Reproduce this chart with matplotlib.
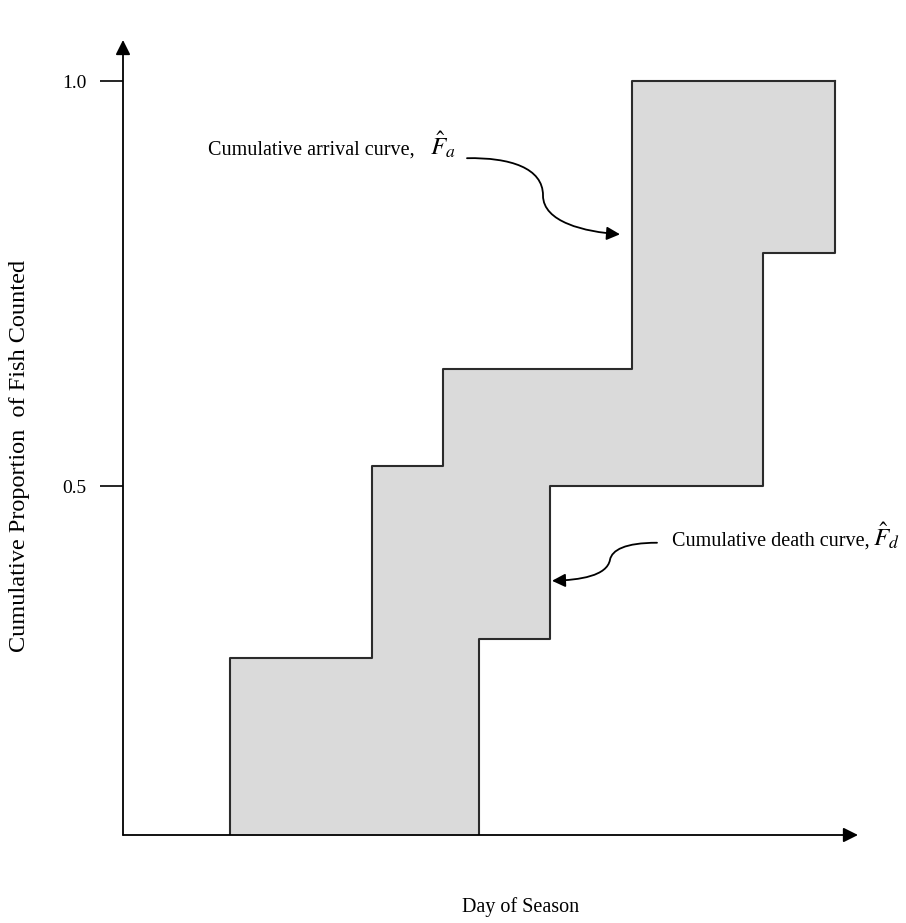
import numpy as np
import matplotlib
matplotlib.use('Agg')
import matplotlib.pyplot as plt
from matplotlib.patches import FancyArrowPatch
from matplotlib.path import Path

plt.rcParams.update({
    'font.family': ['Liberation Serif', 'DejaVu Serif'],
    'mathtext.fontset': 'stix',
    'font.size': 14,
})

# cumulative arrival curve (step up at each day)
arrival_days = [10.7, 10.7, 24.9, 32.0, 50.9, 71.2]
arrival_prop = [0.0, 0.288, 0.525, 0.644, 1.0, 1.0]

# cumulative death curve
death_days = [35.6, 35.6, 42.7, 64.0, 71.2]
death_prop = [0.0, 0.311, 0.5, 0.788, 1.0]

# both curves on a common day grid, for the shading
grid_days = [10.7, 24.9, 32.0, 35.6, 42.7, 50.9, 64.0, 71.2]
grid_arrival = [0.288, 0.525, 0.644, 0.644, 0.644, 1.0, 1.0, 1.0]
grid_death = [0.0, 0.0, 0.0, 0.311, 0.5, 0.5, 0.788, 1.0]

yticks = [0.5, 1.0]
ytick_labels = ['0.5', '1.0']

fig = plt.figure(figsize=(9.06, 9.23), dpi=100)
ax = fig.add_axes([123 / 906, 88 / 923, 735 / 906, 795 / 923])
ax.set_xlim(0, 73.5)
ax.set_ylim(0.069, 1.051)

ax.fill_between(grid_days, grid_death, grid_arrival, step='post',
                color='#dadada', lw=0, zorder=1)
ax.step(arrival_days, arrival_prop, where='post', color='#2b2b2b', lw=1.5, zorder=2)
ax.step(death_days, death_prop, where='post', color='#2b2b2b', lw=1.5, zorder=2)

# axes as arrows
for s in ax.spines.values():
    s.set_visible(False)
ax.annotate('', xy=(0, 1), xytext=(0, 0), xycoords='axes fraction',
            arrowprops=dict(arrowstyle='-|>', color='black', lw=1.3,
                            mutation_scale=22, shrinkA=0, shrinkB=0))
ax.annotate('', xy=(1, 0), xytext=(0, 0), xycoords='axes fraction',
            arrowprops=dict(arrowstyle='-|>', color='black', lw=1.3,
                            mutation_scale=22, shrinkA=0, shrinkB=0))

ax.set_xticks([])
ax.set_yticks(yticks)
ax.set_yticklabels(ytick_labels)
ax.tick_params(axis='y', direction='out', length=16.5, width=1.2, pad=10, labelsize=14)

fig.text(20 / 906, 1 - 456 / 923, 'Cumulative Proportion  of Fish Counted',
         rotation=90, ha='center', va='center', fontsize=17.5)
fig.text(521 / 906, 1 - 907 / 923, 'Day of Season', ha='center', va='center', fontsize=14.5)

# labels with curved arrows
ax.text(8.5, 0.909, 'Cumulative arrival curve,', fontsize=14.5,
        ha='left', va='baseline')
ax.text(30.7, 0.909, r'$\hat{F}_a$', fontsize=18, ha='left', va='baseline')
ax.text(54.9, 0.426, 'Cumulative death curve,', fontsize=14.5,
        ha='left', va='baseline')
ax.text(75.0, 0.426, r'$\hat{F}_d$', fontsize=18, ha='left', va='baseline')

curve_a = Path([(34.4, 0.905), (38.7, 0.906), (42.0, 0.893), (42.0, 0.859),
                (42.0, 0.826), (46.2, 0.814), (49.7, 0.811)],
               [Path.MOVETO] + [Path.CURVE4] * 6)
curve_d = Path([(53.4, 0.430), (50.2, 0.430), (48.9, 0.421), (48.7, 0.409),
                (48.4, 0.389), (45.7, 0.384), (42.9, 0.383)],
               [Path.MOVETO] + [Path.CURVE4] * 6)
for p in (curve_a, curve_d):
    ax.add_patch(FancyArrowPatch(path=p, arrowstyle='-|>', mutation_scale=20,
                                 color='black', lw=1.3, zorder=3))

fig.savefig('out.png', dpi=100)
